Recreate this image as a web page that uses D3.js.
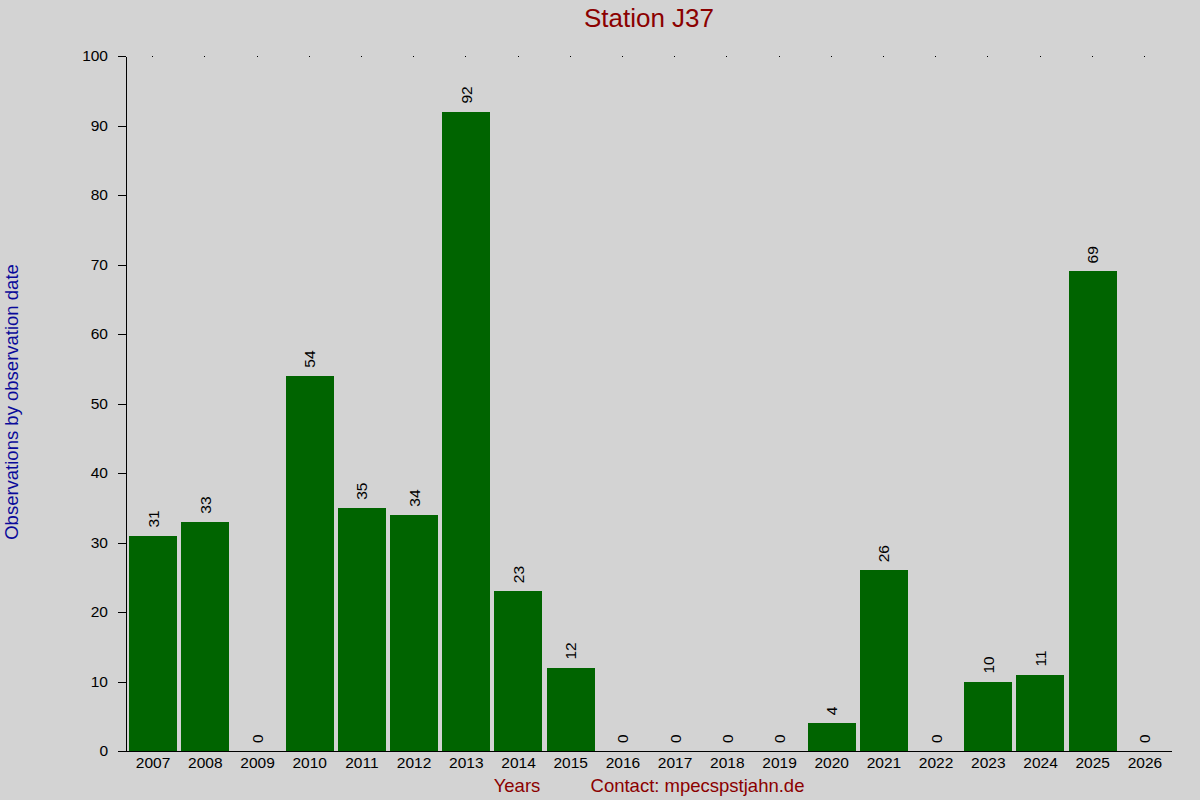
<!DOCTYPE html>
<html>
<head>
<meta charset="utf-8">
<script src="https://cdn.jsdelivr.net/npm/d3@7"></script>
<style>
  body { margin: 0; background: #d3d3d3; }
  svg { display: block; font-family: "Liberation Sans", Arial, sans-serif; }
</style>
</head>
<body>
<script>
// chart data
const years = ["2007", "2008", "2009", "2010", "2011", "2012", "2013", "2014", "2015", "2016",
  "2017", "2018", "2019", "2020", "2021", "2022", "2023", "2024", "2025", "2026"];
const observations = [31, 33, 0, 54, 35, 34, 92, 23, 12, 0, 0, 0, 0, 4, 26, 0, 10, 11, 69, 0];
const yTicks = [0, 10, 20, 30, 40, 50, 60, 70, 80, 90, 100];

const width = 1200;
const height = 800;
const margin = { left: 127, right: 29, top: 56, bottom: 49 };

const svg = d3.select("body")
  .append("svg")
  .attr("width", width)
  .attr("height", height);

svg.append("rect")
  .attr("width", width)
  .attr("height", height)
  .attr("fill", "#d3d3d3");

const data = years.map((y, i) => ({ year: y, value: observations[i] }));

// scales
const xScale = d3.scaleBand()
  .domain(years)
  .range([margin.left, width - margin.right])
  .paddingInner(0.08)
  .paddingOuter(0.04);

const yScale = d3.scaleLinear()
  .domain([0, 100])
  .range([height - margin.bottom, margin.top]);

const baseY = yScale(0);

// bars
svg.append("g")
  .attr("shape-rendering", "crispEdges")
  .selectAll("rect")
  .data(data)
  .enter()
  .append("rect")
  .attr("x", (d) => Math.round(xScale(d.year)))
  .attr("y", (d) => Math.round(yScale(d.value)))
  .attr("width", Math.round(xScale.bandwidth()))
  .attr("height", (d) => baseY - Math.round(yScale(d.value)))
  .attr("fill", "#006400");

// value labels, rotated
svg.append("g")
  .selectAll("text")
  .data(data)
  .enter()
  .append("text")
  .attr("transform", (d) => `translate(${xScale(d.year) + xScale.bandwidth() / 2 + 5.5},${yScale(d.value) - 8}) rotate(-90)`)
  .attr("font-size", "15.5px")
  .attr("fill", "#000")
  .text((d) => d.value);

// y axis
const yAxis = svg.append("g")
  .attr("transform", `translate(126,0)`)
  .call(d3.axisLeft(yScale).tickValues(yTicks).tickSize(8).tickSizeOuter(0).tickPadding(10));
yAxis.select(".domain").attr("stroke", "#000").attr("shape-rendering", "crispEdges");
yAxis.selectAll(".tick line").attr("stroke", "#000").attr("shape-rendering", "crispEdges");
yAxis.selectAll(".tick text")
  .attr("font-size", "15.5px")
  .attr("font-family", "Liberation Sans, Arial, sans-serif")
  .attr("fill", "#000");

// x axis baseline
svg.append("line")
  .attr("x1", 118)
  .attr("x2", width - margin.right + 1)
  .attr("y1", baseY + 0.5)
  .attr("y2", baseY + 0.5)
  .attr("stroke", "#000");

// x tick labels
const xAxis = svg.append("g")
  .attr("transform", `translate(0,${baseY})`)
  .call(d3.axisBottom(xScale).tickSize(0).tickPadding(6));
xAxis.select(".domain").remove();
xAxis.selectAll(".tick text")
  .attr("font-size", "15.5px")
  .attr("font-family", "Liberation Sans, Arial, sans-serif")
  .attr("fill", "#000");

// dots along the top at category centers
svg.append("g")
  .selectAll("rect")
  .data(years)
  .enter()
  .append("rect")
  .attr("x", (d) => Math.round(xScale(d) + xScale.bandwidth() / 2) - 1)
  .attr("y", margin.top)
  .attr("width", 1)
  .attr("height", 1)
  .attr("fill", "#000");

// title
svg.append("text")
  .attr("x", (margin.left + width - margin.right) / 2)
  .attr("y", 27)
  .attr("text-anchor", "middle")
  .attr("font-size", "26px")
  .attr("fill", "#8b0000")
  .text("Station J37");

// bottom labels
svg.append("text")
  .attr("x", 517)
  .attr("y", 792)
  .attr("text-anchor", "middle")
  .attr("font-size", "18.5px")
  .attr("fill", "#8b0000")
  .text("Years");

svg.append("text")
  .attr("x", 697.5)
  .attr("y", 792)
  .attr("text-anchor", "middle")
  .attr("font-size", "18.5px")
  .attr("fill", "#8b0000")
  .text("Contact: mpecspstjahn.de");

// y label
svg.append("text")
  .attr("transform", "translate(18,402) rotate(-90)")
  .attr("text-anchor", "middle")
  .attr("font-size", "18.5px")
  .attr("fill", "#0a0a9a")
  .text("Observations by observation date");
</script>
</body>
</html>
